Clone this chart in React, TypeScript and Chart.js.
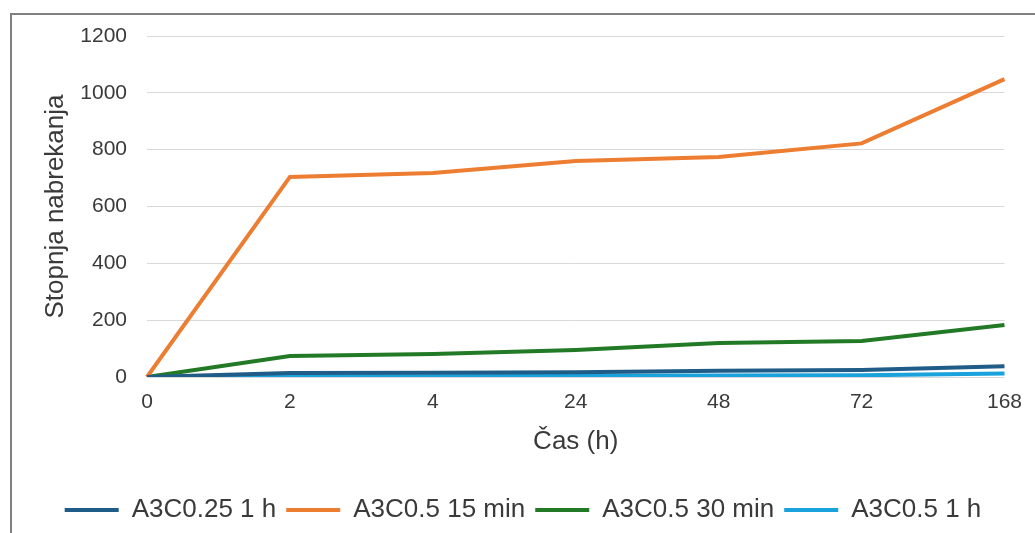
import React, { useEffect, useRef } from "react";
import { Chart, registerables } from "chart.js";

Chart.register(...registerables);

const categories = ["0", "2", "4", "24", "48", "72", "168"];
const seriesNames = ["A3C0.25 1 h", "A3C0.5 15 min", "A3C0.5 30 min", "A3C0.5 1 h"];
const a3c025_1h = [0, 14, 15, 17, 22, 25, 38];
const a3c05_15min = [0, 704, 718, 760, 774, 822, 1048];
const a3c05_30min = [0, 74, 81, 95, 120, 127, 183];
const a3c05_1h = [0, 2, 3, 4, 5, 6, 12];
const seriesColors = ["#1f5c87", "#ed7d31", "#237a26", "#1aa2dc"];
const yTitle = "Stopnja nabrekanja";
const xTitle = "Čas (h)";

export default function App() {
  const ref = useRef<HTMLCanvasElement | null>(null);
  useEffect(() => {
    if (!ref.current) return;
    const values = [a3c025_1h, a3c05_15min, a3c05_30min, a3c05_1h];
    const font = "'Liberation Sans', Arial, sans-serif";
    const chart = new Chart(ref.current, {
      type: "line",
      data: {
        labels: categories,
        datasets: values.map((v, i) => ({
          label: seriesNames[i],
          data: v,
          borderColor: seriesColors[i],
          backgroundColor: seriesColors[i],
          borderWidth: 4,
          pointRadius: 0,
          tension: 0,
          fill: false,
        })),
      },
      options: {
        animation: false,
        responsive: false,
        maintainAspectRatio: false,
        layout: { padding: { left: 38, right: 27, top: 36, bottom: 0 } },
        plugins: {
          tooltip: { enabled: false },
          legend: {
            position: "bottom",
            labels: {
              usePointStyle: true,
              pointStyle: "line",
              pointStyleWidth: 54,
              boxHeight: 26,
              padding: 10,
              color: "#3a3a3a",
              font: { family: font, size: 26 },
            },
          },
        },
        scales: {
          x: {
            grid: { display: false, drawTicks: false },
            border: { display: false },
            ticks: { color: "#3a3a3a", padding: 13, font: { family: font, size: 21 } },
            title: {
              display: true,
              text: xTitle,
              color: "#3a3a3a",
              padding: { top: 4, bottom: 30 },
              font: { family: font, size: 26 },
            },
            afterFit: (s: any) => {
              s.height = 110;
            },
          },
          y: {
            min: 0,
            max: 1200,
            grid: { color: "#d9d9d9", lineWidth: 1, drawTicks: false },
            border: { display: false },
            ticks: {
              stepSize: 200,
              color: "#3a3a3a",
              padding: 20,
              font: { family: font, size: 21 },
              callback: (v: any) => String(v),
            },
            title: {
              display: true,
              text: yTitle,
              color: "#3a3a3a",
              padding: { top: 2, bottom: 4 },
              font: { family: font, size: 26 },
            },
            afterFit: (s: any) => {
              s.width = 109;
            },
          },
        },
      },
    });
    return () => chart.destroy();
  }, []);
  return (
    <div style={{ position: "fixed", left: 0, top: 0, width: 1035, height: 533, background: "#fff", overflow: "hidden" }}>
      <div
        style={{
          position: "absolute",
          left: 10,
          top: 13,
          width: 1100,
          height: 600,
          border: "2px solid #808080",
          boxSizing: "border-box",
        }}
      />
      <canvas ref={ref} width={1035} height={533} style={{ position: "absolute", left: 0, top: 0, width: 1035, height: 533 }} />
    </div>
  );
}
